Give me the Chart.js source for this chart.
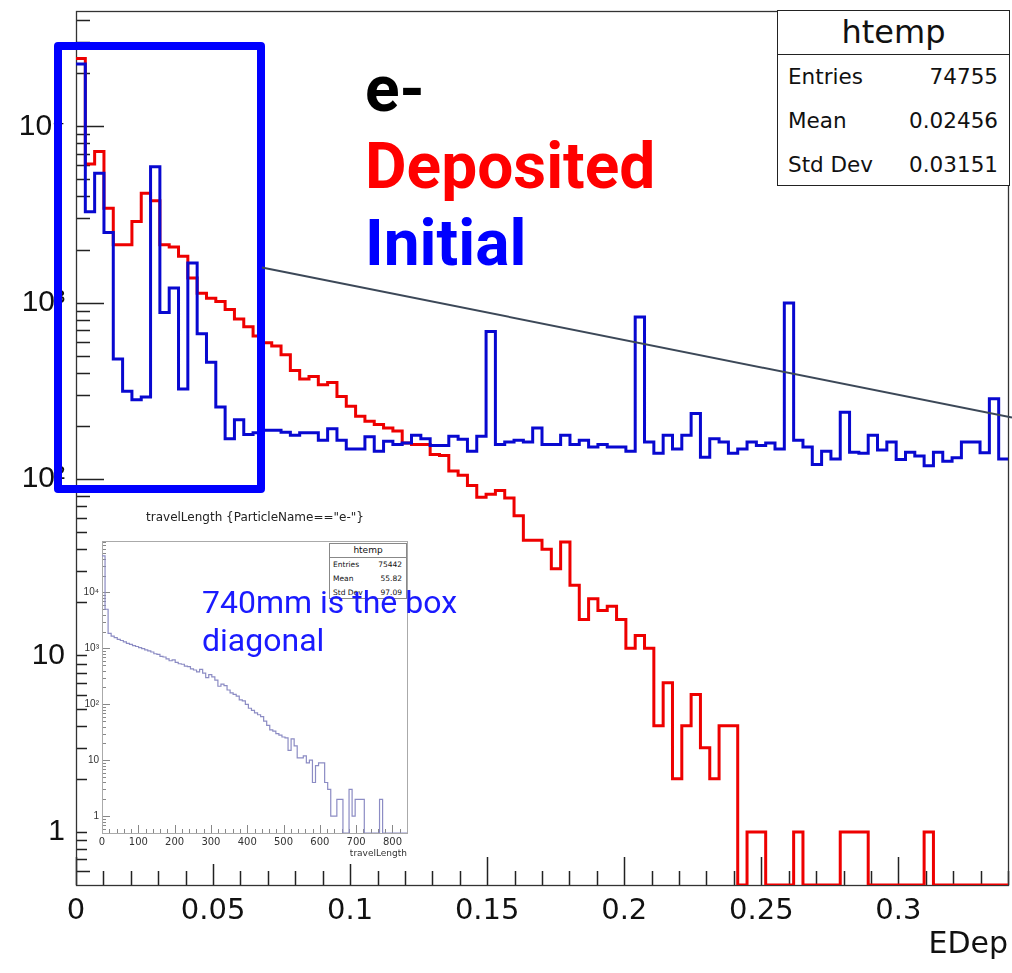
<!DOCTYPE html>
<html>
<head>
<meta charset="utf-8">
<script src="https://cdn.jsdelivr.net/npm/chart.js@4.4.1/dist/chart.umd.min.js"></script>
<style>
html,body{margin:0;padding:0;background:#fff;}
#wrap{position:relative;width:1012px;height:973px;overflow:hidden;background:#fff;}
canvas{position:absolute;}
#main{left:0;top:0;}
#insetBg{position:absolute;left:87px;top:500px;width:330px;height:364px;background:#fff;}
#inset{left:83px;top:500px;}
.stats{position:absolute;background:#fff;box-sizing:border-box;font-family:'DejaVu Sans',sans-serif;color:#111;}
.stats .t{text-align:center;}
.stats .r{display:flex;justify-content:space-between;}
#mainStats{left:777px;top:10px;width:233px;height:176px;border:1px solid #222;}
#mainStats .t{height:43px;line-height:43px;font-size:32px;border-bottom:1px solid #222;}
#mainStats .r{height:44px;line-height:44px;font-size:21.5px;padding:0 11px 0 10px;}
#insetStats{left:329px;top:543px;width:78px;height:56px;border:1px solid #888;}
#insetStats .t{height:13px;line-height:13px;font-size:9px;border-bottom:1px solid #888;}
#insetStats .r{height:14px;line-height:14px;font-size:7.5px;padding:0 4px 0 3px;}
#insetTitle{position:absolute;left:255px;top:510px;transform:translateX(-50%);white-space:nowrap;font-family:'DejaVu Sans',sans-serif;font-size:12px;line-height:14px;color:#222;}
#anno{position:absolute;left:365px;top:52px;font-family:Roboto,sans-serif;font-weight:700;font-size:64px;line-height:76.8px;white-space:nowrap;}
#note{position:absolute;left:202px;top:583px;font-family:Roboto,sans-serif;font-weight:400;font-size:32px;line-height:38.4px;color:#1a1aff;white-space:nowrap;}
#box{position:absolute;left:54px;top:42px;width:211px;height:451px;border:8px solid #0000ff;border-radius:4px;box-sizing:border-box;}
#ov{position:absolute;left:0;top:0;}
</style>
</head>
<body>
<div id="wrap">
  <canvas id="main" width="1012" height="973"></canvas>
  <div id="insetBg"></div>
  <canvas id="inset" width="334" height="364"></canvas>
  <div id="insetTitle">travelLength {ParticleName=="e-"}</div>
  <div class="stats" id="insetStats">
    <div class="t">htemp</div>
    <div class="r"><span>Entries</span><span>75442</span></div>
    <div class="r"><span>Mean</span><span>55.82</span></div>
    <div class="r"><span>Std Dev</span><span>97.09</span></div>
  </div>
  <div class="stats" id="mainStats">
    <div class="t">htemp</div>
    <div class="r"><span>Entries</span><span>74755</span></div>
    <div class="r"><span>Mean</span><span>0.02456</span></div>
    <div class="r"><span>Std Dev</span><span>0.03151</span></div>
  </div>
  <div id="anno"><div style="color:#000">e-</div><div style="color:#ff0000">Deposited</div><div style="color:#0000ff">Initial</div></div>
  <div id="note">740mm is the box<br>diagonal</div>
  <div id="box"></div>
  <svg id="ov" width="1012" height="973"><line x1="262" y1="267.5" x2="1012" y2="417.5" stroke="#3c4858" stroke-width="2"/></svg>
</div>
<script>
// ---------------- data ----------------
// main histogram: EDep, 100 bins from 0 to 0.34
const edepRange = [0, 0.34];
const depositedCounts = [
  24200, 6100, 7200, 3430, 2130, 2130, 2880, 4170, 3780, 2130,
  2065, 1830, 1380, 1130, 1060, 1016, 915, 808, 730, 647,
  592, 567, 507, 413, 369, 382, 343, 353, 294, 259,
  227, 213, 204, 195, 187, 160, 157, 157, 138, 136,
  111, 105, 92, 79, 82, 86, 78, 62, 45, 45,
  40, 31, 44, 25, 16, 21, 18, 19, 16, 11,
  13, 11, 4, 7, 2, 4, 6, 3, 2, 4,
  4, 0, 1, 1, 0, 0, 0, 1, 0, 0,
  0, 0, 1, 1, 1, 0, 0, 0, 0, 0,
  0, 1, 0, 0, 0, 0, 0, 0, 0, 0
];
const initialCounts = [
  22500, 3280, 5410, 2500, 480, 315, 282, 292, 5900, 880,
  1210, 324, 1676, 667, 459, 256, 169, 217, 179, 183,
  189, 189, 184, 177, 183, 183, 166, 193, 166, 148,
  148, 174, 144, 164, 157, 160, 177, 169, 155, 155,
  175, 168, 144, 175, 687, 157, 162, 166, 162, 195,
  157, 157, 177, 157, 166, 152, 157, 152, 152, 144,
  829, 162, 140, 177, 148, 177, 235, 133, 169, 162,
  140, 148, 162, 155, 160, 148, 995, 166, 152, 121,
  144, 130, 239, 142, 140, 177, 146, 162, 129, 142,
  135, 119, 142, 126, 132, 162, 162, 141, 285, 130
];
const xTickValues = [0, 0.05, 0.1, 0.15, 0.2, 0.25, 0.3];
const xTickLabels = ['0', '0.05', '0.1', '0.15', '0.2', '0.25', '0.3'];
const yTickValues = [1, 10, 100, 1000, 10000];
const yTickLabels = ['1', '10', '10\u00B2', '10\u00B3', '10\u2074'];

// inset histogram: travelLength, 100 bins from 0 to 840
const travelRange = [0, 840];
const travelCounts = [
  45000, 5000, 1850, 1650, 1550, 1450, 1380, 1300, 1230, 1180,
  1120, 1080, 1030, 990, 940, 900, 860, 800, 780, 720,
  700, 650, 600, 620, 560, 530, 520, 480, 470, 430,
  410, 380, 420, 360, 300, 340, 310, 270, 210, 230,
  215, 180, 160, 150, 140, 120, 115, 100, 85, 78,
  70, 65, 60, 50, 42, 35, 33, 30, 28, 26,
  25, 15, 24, 18, 11, 11, 12, 9, 10, 4,
  8, 9, 9, 4, 3, 1, 1, 2, 2, 0,
  0, 3, 1, 2, 2, 2, 0, 0, 0, 0,
  0, 2, 0, 0, 0, 0, 0, 0, 0, 0
];
const insetXTickValues = [0, 100, 200, 300, 400, 500, 600, 700, 800];
const insetXTickLabels = ['0', '100', '200', '300', '400', '500', '600', '700', '800'];
const insetYTickValues = [1, 10, 100, 1000, 10000];
const insetYTickLabels = ['1', '10', '10\u00B2', '10\u00B3', '10\u2074'];

// ---------------- helpers ----------------
function stepPoints(counts, range, floor) {
  const w = (range[1] - range[0]) / counts.length;
  const pts = counts.map((c, i) => ({x: range[0] + i * w, y: c > 0 ? c : floor}));
  pts.push({x: range[1], y: pts[pts.length - 1].y});
  return pts;
}
function fixSize(prop, size) {
  return s => {
    s[prop] = size;
    s.paddingTop = 0; s.paddingBottom = 0; s.paddingLeft = 0; s.paddingRight = 0;
  };
}

const rootAxes = {
  id: 'rootAxes',
  beforeDatasetsDraw(chart, args, o) {
    const {ctx, chartArea: a, scales: {x, y}} = chart;
    ctx.save();
    ctx.strokeStyle = o.color;
    ctx.lineWidth = o.width;
    ctx.beginPath();
    const n = Math.floor((x.max - x.min) / o.xStep + 1e-6);
    for (let i = 0; i <= n; i++) {
      const v = x.min + i * o.xStep;
      const px = Math.round(x.getPixelForValue(v)) + 0.5;
      const len = (i % o.xPerMajor === 0) ? o.major : o.minor;
      ctx.moveTo(px, a.bottom);
      ctx.lineTo(px, a.bottom - len);
    }
    const d0 = Math.floor(Math.log10(y.min)), d1 = Math.ceil(Math.log10(y.max));
    for (let d = d0; d <= d1; d++) {
      for (let m = 1; m <= 9; m++) {
        const v = m * Math.pow(10, d);
        if (v < y.min * 1.0001 || v > y.max) continue;
        const py = Math.round(y.getPixelForValue(v)) + 0.5;
        ctx.moveTo(a.left, py);
        ctx.lineTo(a.left + (m === 1 ? o.major : o.minor), py);
      }
    }
    ctx.stroke();
    ctx.strokeStyle = o.frameColor;
    ctx.lineWidth = o.frameWidth;
    ctx.strokeRect(a.left + 0.5, a.top + 0.5, a.right - a.left, a.bottom - a.top);
    ctx.restore();
  }
};

Chart.defaults.font.family = "'DejaVu Sans', sans-serif";
Chart.defaults.animation = false;

// ---------------- main chart ----------------
const yMin = 0.5, yMax = 45000;
new Chart(document.getElementById('main'), {
  type: 'line',
  data: {
    datasets: [
      {label: 'Deposited', data: stepPoints(depositedCounts, edepRange, yMin), borderColor: '#ee0000',
       borderWidth: 3, stepped: 'before', pointRadius: 0, fill: false, order: 1},
      {label: 'Initial', data: stepPoints(initialCounts, edepRange, yMin), borderColor: '#0808d0',
       borderWidth: 3, stepped: 'before', pointRadius: 0, fill: false, order: 0}
    ]
  },
  options: {
    responsive: false,
    animation: false,
    layout: {autoPadding: false, padding: {top: 11, right: 4, left: 0, bottom: 0}},
    plugins: {
      legend: {display: false},
      tooltip: {enabled: false},
      rootAxes: {xStep: 0.01, xPerMajor: 5, major: 28, minor: 14, color: '#222', width: 1.5, frameColor: '#333', frameWidth: 1.3}
    },
    scales: {
      x: {
        type: 'linear', min: edepRange[0], max: edepRange[1],
        afterBuildTicks: s => { s.ticks = xTickValues.map(v => ({value: v})); },
        afterFit: fixSize('height', 88),
        grid: {display: false, drawTicks: false},
        border: {display: false},
        ticks: {autoSkip: false, maxRotation: 0, padding: 9, font: {size: 29}, color: '#111',
                callback: (v, i) => xTickLabels[i]},
        title: {display: true, text: 'EDep', align: 'end', font: {size: 30}, color: '#111', padding: {top: 0, bottom: 10}}
      },
      y: {
        type: 'logarithmic', min: yMin, max: yMax,
        afterBuildTicks: s => { s.ticks = yTickValues.map(v => ({value: v})); },
        afterFit: fixSize('width', 76),
        grid: {display: false, drawTicks: false},
        border: {display: false},
        ticks: {autoSkip: false, padding: 11, font: {size: 30, family: "'Liberation Sans', Arial, sans-serif"}, color: '#111',
                callback: (v, i) => yTickLabels[i]}
      }
    }
  },
  plugins: [rootAxes]
});

// ---------------- inset chart ----------------
const iyMin = 0.5, iyMax = 83000;
new Chart(document.getElementById('inset'), {
  type: 'line',
  data: {
    datasets: [
      {label: 'travelLength', data: stepPoints(travelCounts, travelRange, iyMin), borderColor: '#8c8cc4',
       borderWidth: 1.2, stepped: 'before', pointRadius: 0, fill: false}
    ]
  },
  options: {
    responsive: false,
    animation: false,
    layout: {autoPadding: false, padding: {top: 41, right: 10, left: 0, bottom: 0}},
    plugins: {
      legend: {display: false},
      tooltip: {enabled: false},
      rootAxes: {xStep: 20, xPerMajor: 5, major: 8, minor: 4, color: '#888', width: 1, frameColor: '#aaa', frameWidth: 1}
    },
    scales: {
      x: {
        type: 'linear', min: travelRange[0], max: travelRange[1],
        afterBuildTicks: s => { s.ticks = insetXTickValues.map(v => ({value: v})); },
        afterFit: fixSize('height', 31),
        grid: {display: false, drawTicks: false},
        border: {display: false},
        ticks: {autoSkip: false, maxRotation: 0, padding: 3, font: {size: 10}, color: '#333',
                callback: (v, i) => insetXTickLabels[i]},
        title: {display: true, text: 'travelLength', align: 'end', font: {size: 9}, color: '#333', padding: {top: 0, bottom: 5}}
      },
      y: {
        type: 'logarithmic', min: iyMin, max: iyMax,
        afterBuildTicks: s => { s.ticks = insetYTickValues.map(v => ({value: v})); },
        afterFit: fixSize('width', 19),
        grid: {display: false, drawTicks: false},
        border: {display: false},
        ticks: {autoSkip: false, padding: 3, font: {size: 10, family: "'Liberation Sans', Arial, sans-serif"}, color: '#333',
                callback: (v, i) => insetYTickLabels[i]}
      }
    }
  },
  plugins: [rootAxes]
});
</script>
</body>
</html>
